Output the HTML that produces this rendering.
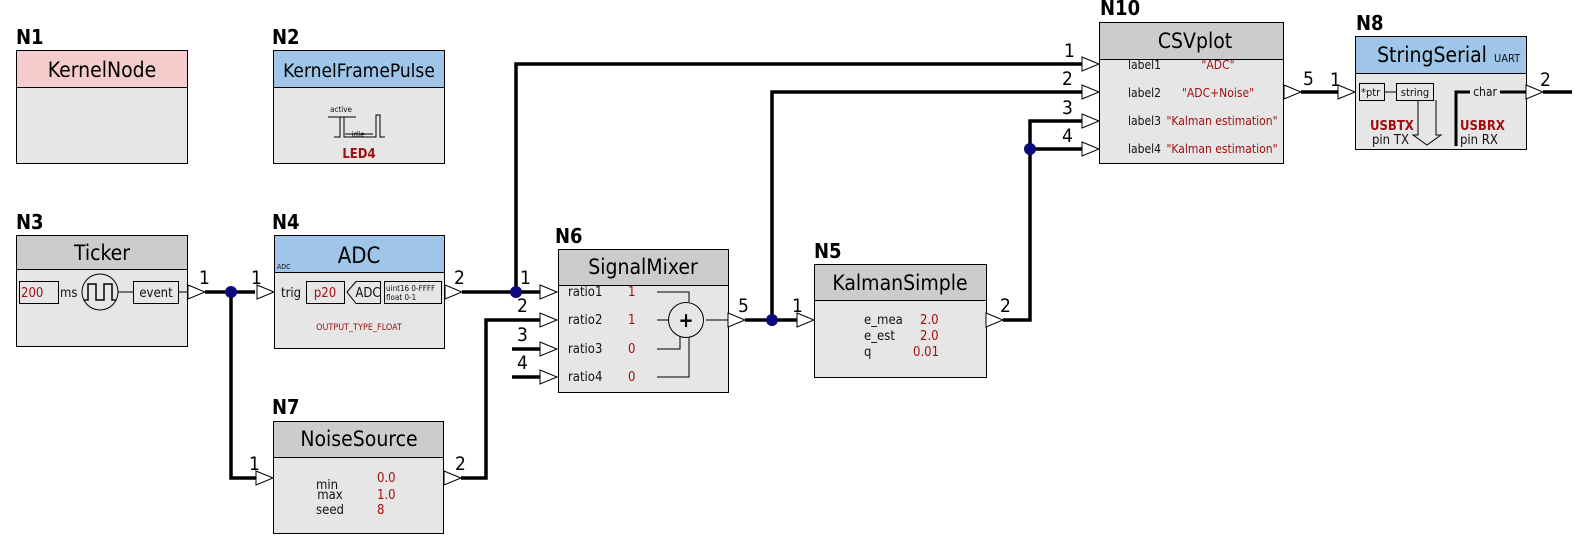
<!DOCTYPE html>
<html><head><meta charset="utf-8"><style>
html,body{margin:0;padding:0;background:#fff;}
svg{display:block;font-family:"DejaVu Sans Condensed","DejaVu Sans","Liberation Sans",sans-serif;}
.t{font-size:21px;fill:#000;text-anchor:middle;}
.n{font-size:20px;fill:#000;font-weight:bold;}
.p{font-size:19px;fill:#000;}
.w{stroke:#000;stroke-width:3.5;fill:none;}
</style></head><body>
<svg width="1578" height="557" viewBox="0 0 1578 557" xmlns="http://www.w3.org/2000/svg">
<defs>
<g id="arr"><polygon points="0,-7 17,0 0,7" fill="#fff" stroke="#000" stroke-width="1"/></g>
</defs>

<g class="w">
<path d="M205 292 H255"/>
<path d="M231 292 V478 H256"/>
<path d="M462 292 H540"/>
<path d="M516 292 V64 H1082"/>
<path d="M461 478 H486 V320 H540"/>
<path d="M512 349 H540"/>
<path d="M512 377 H540"/>
<path d="M745 320 H797"/>
<path d="M772 320 V92 H1082"/>
<path d="M1003 320 H1030 V121 H1082"/>
<path d="M1030 149 H1082"/>
<path d="M1301 92 H1338"/>
<path d="M1543 92 H1572"/>
</g>
<g fill="#0a0a7a">
<circle cx="231" cy="292" r="6"/><circle cx="516" cy="292" r="6"/><circle cx="772" cy="320" r="6"/><circle cx="1030" cy="149" r="6"/>
</g>

<!-- N1 -->
<text class="n" x="16" y="44">N1</text>
<rect x="16.5" y="50.5" width="171" height="113" fill="#e6e6e6" stroke="#000"/>
<rect x="16.5" y="50.5" width="171" height="37" fill="#f4cccc" stroke="#000"/>
<text class="t" x="102" y="77">KernelNode</text>

<!-- N2 -->
<text class="n" x="272" y="44">N2</text>
<rect x="273.5" y="50.5" width="171" height="113" fill="#e6e6e6" stroke="#000"/>
<rect x="273.5" y="50.5" width="171" height="37" fill="#9fc5e8" stroke="#000"/>
<text x="359" y="77" font-size="19" fill="#000" text-anchor="middle">KernelFramePulse</text>
<g stroke="#000" stroke-width="1" fill="none">
<path d="M334 137 H340 V117 H344 V137 H376 V115 H380 V137 H385"/>
<path d="M328 117 H356"/><path d="M345 134 H373"/>
</g>
<text x="341" y="112" font-size="8" text-anchor="middle" fill="#111">active</text>
<text x="358" y="137" font-size="8" text-anchor="middle" fill="#111">idle</text>
<text x="359" y="158" font-size="13" text-anchor="middle" fill="#a01010" font-weight="bold">LED4</text>

<!-- N3 Ticker -->
<text class="n" x="16" y="229">N3</text>
<rect x="16.5" y="235.5" width="171" height="111" fill="#e6e6e6" stroke="#000"/>
<rect x="16.5" y="235.5" width="171" height="34" fill="#cccccc" stroke="#000"/>
<text class="t" x="102" y="260">Ticker</text>
<rect x="19.5" y="281.5" width="39" height="22" fill="none" stroke="#000"/>
<text x="21" y="297" font-size="13" fill="#a01010">200</text>
<text x="60" y="297" font-size="13" fill="#111">ms</text>
<circle cx="100" cy="292" r="18" fill="none" stroke="#000"/>
<path d="M84 300 H88 V284 H96 V300 H104 V284 H112 V300 H116" fill="none" stroke="#000" stroke-width="1.5"/>
<path d="M118 292 H133" stroke="#000"/>
<rect x="133.5" y="281.5" width="45" height="22" fill="none" stroke="#000"/>
<text x="156" y="297" font-size="13" fill="#111" text-anchor="middle">event</text>
<path d="M178 292 H188" stroke="#000"/>
<use href="#arr" x="188" y="292"/>
<text class="p" x="199" y="284">1</text>

<!-- N4 ADC -->
<text class="n" x="272" y="229">N4</text>
<rect x="274.5" y="235.5" width="170" height="113" fill="#e6e6e6" stroke="#000"/>
<rect x="274.5" y="235.5" width="170" height="37" fill="#9fc5e8" stroke="#000"/>
<text x="359" y="263" font-size="22" fill="#000" text-anchor="middle">ADC</text>
<text x="277" y="269" font-size="7" fill="#111">ADC</text>
<use href="#arr" x="257" y="292"/>
<text class="p" x="251" y="284">1</text>
<text x="281" y="297" font-size="13" fill="#111">trig</text>
<rect x="306.5" y="281.5" width="38" height="22" fill="none" stroke="#000"/>
<text x="325" y="297" font-size="13" fill="#a01010" text-anchor="middle">p20</text>
<polygon points="347,292 356,281.5 380.5,281.5 380.5,303.5 356,303.5" fill="none" stroke="#000"/>
<text x="368" y="297" font-size="13" fill="#111" text-anchor="middle">ADC</text>
<rect x="384.5" y="281.5" width="57" height="22" fill="none" stroke="#000"/>
<text x="386" y="291" font-size="8" fill="#111">uint16 0-FFFF</text>
<text x="386" y="300" font-size="8" fill="#111">float    0-1</text>
<text x="359" y="330" font-size="9" fill="#a01010" text-anchor="middle">OUTPUT_TYPE_FLOAT</text>
<use href="#arr" x="445" y="292"/>
<text class="p" x="454" y="284">2</text>

<!-- N7 -->
<text class="n" x="272" y="414">N7</text>
<rect x="273.5" y="421.5" width="170" height="112" fill="#e6e6e6" stroke="#000"/>
<rect x="273.5" y="421.5" width="170" height="36" fill="#cccccc" stroke="#000"/>
<text class="t" x="359" y="446">NoiseSource</text>
<use href="#arr" x="256" y="478"/>
<text class="p" x="249" y="470">1</text>
<text x="327" y="489" font-size="13" fill="#111" text-anchor="middle">min</text>
<text x="330" y="499" font-size="13" fill="#111" text-anchor="middle">max</text>
<text x="330" y="514" font-size="13" fill="#111" text-anchor="middle">seed</text>
<text x="377" y="482" font-size="13" fill="#a01010">0.0</text>
<text x="377" y="499" font-size="13" fill="#a01010">1.0</text>
<text x="377" y="514" font-size="13" fill="#a01010">8</text>
<use href="#arr" x="444" y="478"/>
<text class="p" x="455" y="470">2</text>

<!-- N6 -->
<text class="n" x="555" y="243">N6</text>
<rect x="558.5" y="249.5" width="170" height="143" fill="#e6e6e6" stroke="#000"/>
<rect x="558.5" y="249.5" width="170" height="36" fill="#cccccc" stroke="#000"/>
<text class="t" x="643" y="274">SignalMixer</text>
<use href="#arr" x="540" y="292"/><use href="#arr" x="540" y="320"/><use href="#arr" x="540" y="349"/><use href="#arr" x="540" y="377"/>
<text class="p" x="520" y="284">1</text><text class="p" x="517" y="312">2</text><text class="p" x="517" y="341">3</text><text class="p" x="517" y="369">4</text>
<text x="568" y="296" font-size="13" fill="#111">ratio1</text>
<text x="568" y="324" font-size="13" fill="#111">ratio2</text>
<text x="568" y="353" font-size="13" fill="#111">ratio3</text>
<text x="568" y="381" font-size="13" fill="#111">ratio4</text>
<text x="628" y="296" font-size="13" fill="#a01010">1</text>
<text x="628" y="324" font-size="13" fill="#a01010">1</text>
<text x="628" y="353" font-size="13" fill="#a01010">0</text>
<text x="628" y="381" font-size="13" fill="#a01010">0</text>
<g stroke="#000" fill="none">
<path d="M657 292 H689 V302"/><path d="M657 320 H668"/><path d="M657 349 H680 V336"/><path d="M657 377 H689 V338"/><path d="M706 320 H728"/>
<circle cx="686" cy="320" r="17.5" fill="#e6e6e6"/>
</g>
<text x="686" y="327" font-size="20" font-weight="bold" text-anchor="middle" fill="#000">+</text>
<use href="#arr" x="728" y="320"/>
<text class="p" x="738" y="312">5</text>

<!-- N5 -->
<text class="n" x="814" y="258">N5</text>
<rect x="814.5" y="264.5" width="172" height="113" fill="#e6e6e6" stroke="#000"/>
<rect x="814.5" y="264.5" width="172" height="36" fill="#cccccc" stroke="#000"/>
<text class="t" x="900" y="290">KalmanSimple</text>
<use href="#arr" x="797" y="320"/>
<text class="p" x="792" y="312">1</text>
<text x="864" y="324" font-size="13" fill="#111">e_mea</text>
<text x="864" y="340" font-size="13" fill="#111">e_est</text>
<text x="864" y="356" font-size="13" fill="#111">q</text>
<text x="920" y="324" font-size="13" fill="#a01010">2.0</text>
<text x="920" y="340" font-size="13" fill="#a01010">2.0</text>
<text x="913" y="356" font-size="13" fill="#a01010">0.01</text>
<use href="#arr" x="986" y="320"/>
<text class="p" x="1000" y="312">2</text>

<!-- N10 -->
<text class="n" x="1100" y="15">N10</text>
<rect x="1099.5" y="22.5" width="184" height="141" fill="#e6e6e6" stroke="#000"/>
<rect x="1099.5" y="22.5" width="184" height="37" fill="#cccccc" stroke="#000"/>
<text class="t" x="1195" y="48">CSVplot</text>
<use href="#arr" x="1082" y="64"/><use href="#arr" x="1082" y="92"/><use href="#arr" x="1082" y="121"/><use href="#arr" x="1082" y="149"/>
<text class="p" x="1064" y="57">1</text><text class="p" x="1062" y="85">2</text><text class="p" x="1062" y="114">3</text><text class="p" x="1062" y="142">4</text>
<text x="1128" y="69" font-size="12" fill="#111">label1</text>
<text x="1128" y="97" font-size="12" fill="#111">label2</text>
<text x="1128" y="125" font-size="12" fill="#111">label3</text>
<text x="1128" y="153" font-size="12" fill="#111">label4</text>
<text x="1218" y="69" font-size="12" fill="#a01010" text-anchor="middle">"ADC"</text>
<text x="1218" y="97" font-size="12" fill="#a01010" text-anchor="middle">"ADC+Noise"</text>
<text x="1222" y="125" font-size="12" fill="#a01010" text-anchor="middle">"Kalman estimation"</text>
<text x="1222" y="153" font-size="12" fill="#a01010" text-anchor="middle">"Kalman estimation"</text>
<use href="#arr" x="1284" y="92"/>
<text class="p" x="1303" y="85">5</text>

<!-- N8 -->
<text class="n" x="1356" y="30">N8</text>
<rect x="1355.5" y="36.5" width="171" height="113" fill="#e6e6e6" stroke="#000"/>
<rect x="1355.5" y="36.5" width="171" height="37" fill="#9fc5e8" stroke="#000"/>
<text x="1432" y="62" font-size="21" fill="#000" text-anchor="middle">StringSerial</text>
<text x="1494" y="62" font-size="11" fill="#111">UART</text>
<use href="#arr" x="1338" y="92"/>
<text class="p" x="1330" y="86">1</text>
<rect x="1359.5" y="83.5" width="25" height="17" fill="none" stroke="#000"/>
<text x="1361" y="96" font-size="11" fill="#111">*ptr</text>
<path d="M1385 92 H1396" stroke="#000"/>
<rect x="1396.5" y="83.5" width="37" height="17" fill="none" stroke="#000"/>
<text x="1415" y="96" font-size="11" fill="#111" text-anchor="middle">string</text>
<path d="M1418 100 V135 H1413 L1427 145 L1441 135 H1436 V100" fill="none" stroke="#000"/>
<text x="1370" y="130" font-size="13" fill="#a01010" font-weight="bold">USBTX</text>
<text x="1372" y="144" font-size="13" fill="#111">pin TX</text>
<path d="M1456 146 V92 H1470 M1500 92 H1526" fill="none" stroke="#000" stroke-width="3"/>
<text x="1485" y="96" font-size="12" fill="#111" text-anchor="middle">char</text>
<text x="1460" y="130" font-size="13" fill="#a01010" font-weight="bold">USBRX</text>
<text x="1460" y="144" font-size="13" fill="#111">pin RX</text>
<use href="#arr" x="1526" y="92"/>
<text class="p" x="1540" y="86">2</text>
</svg>
</body></html>
